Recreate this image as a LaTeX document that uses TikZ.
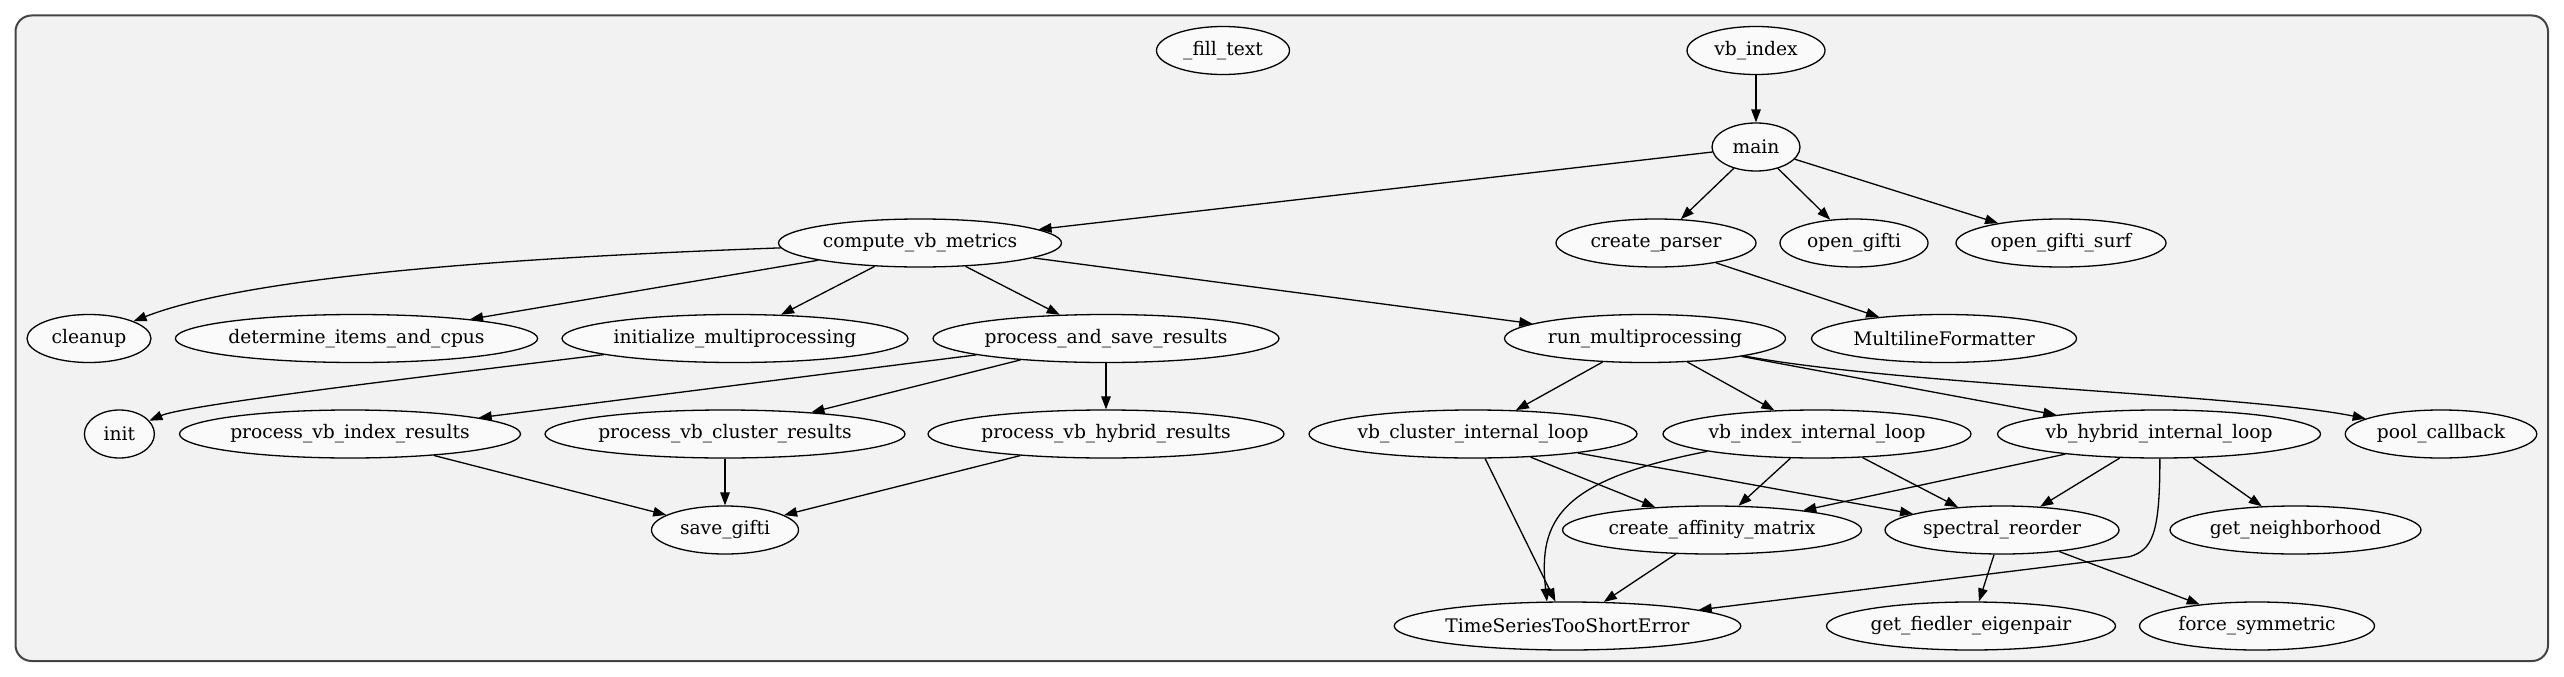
\documentclass[tikz,border=0pt]{standalone}
\usepackage{fontspec}
\setmainfont{DejaVu Serif}
\usetikzlibrary{shapes.geometric,arrows.meta}
\definecolor{bgfill}{HTML}{F2F2F2}
\definecolor{nodefill}{HTML}{FAFAFA}
\definecolor{framecol}{HTML}{444444}
\tikzset{
  gv/.style={ellipse, draw=black, fill=nodefill, line width=1.3pt, inner sep=0pt,
    minimum height=48pt, minimum width=#1, font=\fontsize{18.67pt}{22pt}\selectfont},
  edge/.style={draw=black, line width=1.3pt, -{Triangle[length=13pt,width=9.5pt]}}
}
\begin{document}
\begin{tikzpicture}[x=1pt,y=-1pt]
\useasboundingbox (0,0) rectangle (2564,677);
\draw[rounded corners=16pt, fill=bgfill, draw=framecol, line width=2pt] (15.5,15.5) rectangle (2548,661);
% row 0
\node[gv=133pt] (filltext) at (1223,50.5) {\_fill\_text};
\node[gv=138pt] (vbindex) at (1756,50.5) {vb\_index};
% row 1
\node[gv=88pt] (main) at (1756,147) {main};
% row 2
\node[gv=283pt] (cvm) at (920,243) {compute\_vb\_metrics};
\node[gv=200pt] (cparser) at (1656,243) {create\_parser};
\node[gv=148pt] (ogifti) at (1854,243) {open\_gifti};
\node[gv=210pt] (ogsurf) at (2061,243) {open\_gifti\_surf};
% row 3
\node[gv=124pt] (cleanup) at (89,338.5) {cleanup};
\node[gv=361pt] (determine) at (356.5,338.5) {determine\_items\_and\_cpus};
\node[gv=346pt] (initmp) at (735,338.5) {initialize\_multiprocessing};
\node[gv=346pt] (pasr) at (1106,338.5) {process\_and\_save\_results};
\node[gv=281pt] (runmp) at (1645,338.5) {run\_multiprocessing};
\node[gv=265pt] (mlf) at (1944,338.5) {MultilineFormatter};
% row 4
\node[gv=70pt] (init) at (119.4,434) {init};
\node[gv=341pt] (pvir) at (350,434) {process\_vb\_index\_results};
\node[gv=360pt] (pvcr) at (725,434) {process\_vb\_cluster\_results};
\node[gv=356pt] (pvhr) at (1106,434) {process\_vb\_hybrid\_results};
\node[gv=328pt] (vbcil) at (1473,434) {vb\_cluster\_internal\_loop};
\node[gv=308pt] (vbiil) at (1817,434) {vb\_index\_internal\_loop};
\node[gv=323pt] (vbhil) at (2159,434) {vb\_hybrid\_internal\_loop};
\node[gv=191.5pt] (poolcb) at (2441,434) {pool\_callback};
% row 5
\node[gv=147pt] (savegifti) at (725,530) {save\_gifti};
\node[gv=299pt] (cam) at (1712,530) {create\_affinity\_matrix};
\node[gv=234pt] (spectral) at (2002,530) {spectral\_reorder};
\node[gv=251pt] (getnb) at (2295.5,530) {get\_neighborhood};
% row 6
\node[gv=346.6pt] (tstse) at (1567.5,626) {TimeSeriesTooShortError};
\node[gv=289pt] (gfe) at (1971,626) {get\_fiedler\_eigenpair};
\node[gv=235pt] (fsym) at (2257,626) {force\_symmetric};
\coordinate (hybbend) at (2129.5,556.7);
% edges
\draw[edge] (vbindex) -- (main);
\draw[edge] (main) -- (cvm);
\draw[edge] (main) -- (cparser);
\draw[edge] (main) -- (ogifti);
\draw[edge] (main) -- (ogsurf);
\draw[edge] (cparser) -- (mlf);
\draw[edge] (cvm.182) .. controls (560,256) and (260,272) .. (cleanup);
\draw[edge] (cvm) -- (determine);
\draw[edge] (cvm) -- (initmp);
\draw[edge] (cvm) -- (pasr);
\draw[edge] (cvm) -- (runmp);
\draw[edge] (initmp.187) .. controls (420,377) and (185,405) .. (init);
\draw[edge] (pasr) -- (pvir);
\draw[edge] (pasr) -- (pvcr);
\draw[edge] (pasr) -- (pvhr);
\draw[edge] (pvir) -- (savegifti);
\draw[edge] (pvcr) -- (savegifti);
\draw[edge] (pvhr) -- (savegifti);
\draw[edge] (runmp) -- (vbcil);
\draw[edge] (runmp) -- (vbiil);
\draw[edge] (runmp) -- (vbhil);
\draw[edge] (runmp.-10) .. controls (1900,385) and (2250,395) .. (poolcb);
\draw[edge] (vbcil) -- (tstse);
\draw[edge] (vbcil) -- (cam);
\draw[edge] (vbcil) -- (spectral);
\draw[edge] (vbiil.189) .. controls (1560,480) and (1538,520) .. (tstse.130);
\draw[edge] (vbiil) -- (cam);
\draw[edge] (vbiil) -- (spectral);
\draw[edge] (vbhil) -- (cam);
\draw[edge] (vbhil) -- (spectral);
\draw[edge] (vbhil) -- (getnb);
\draw[edge] (vbhil.-88) .. controls (2160,535) and (2152,550) .. (hybbend) -- (tstse);
\draw[edge] (cam) -- (tstse);
\draw[edge] (spectral) -- (gfe);
\draw[edge] (spectral) -- (fsym);
\end{tikzpicture}
\end{document}
